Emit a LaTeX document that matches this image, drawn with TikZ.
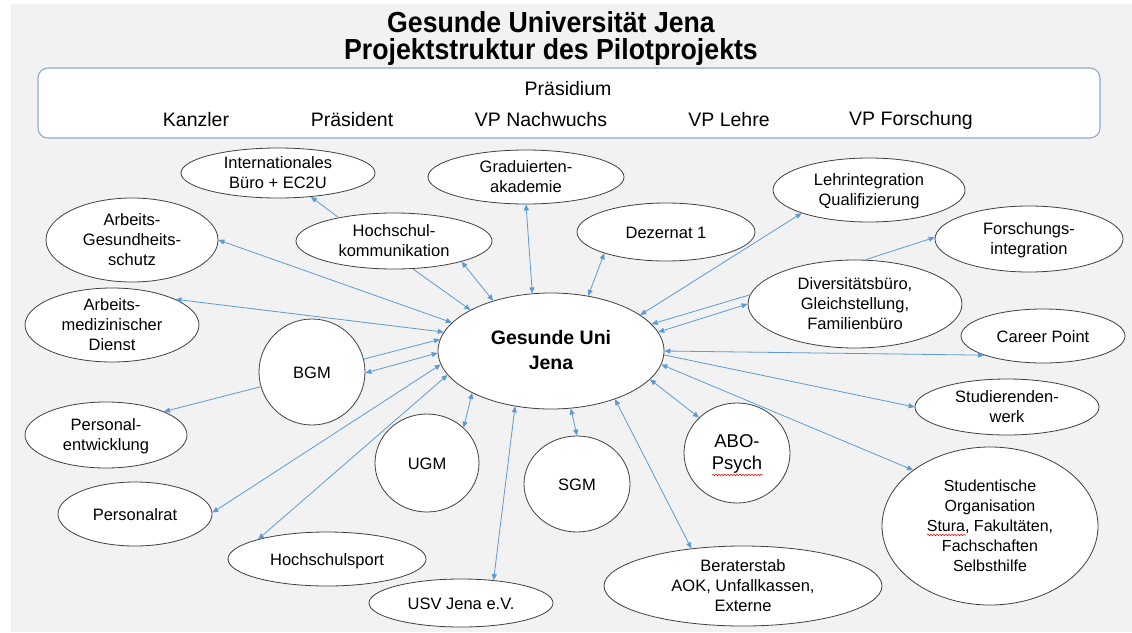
\documentclass[tikz,border=0pt]{standalone}
\usepackage{fontspec}
\setmainfont{Liberation Sans}
\newfontfamily\condfont{Liberation Sans}[FakeStretch=0.92]
\usetikzlibrary{shapes.geometric,arrows.meta,decorations.pathmorphing}
\definecolor{bgg}{HTML}{F2F2F2}
\definecolor{conn}{HTML}{5B9BD5}
\definecolor{edgec}{HTML}{404040}
\definecolor{boxc}{HTML}{8FAACC}
\newcommand\blob[7]{%
  \node[ell, minimum width=#4pt, minimum height=#5pt] (#1) at (#2,#3) {};
  \node[txt, #6] (#1t) at (#1) {#7};}
\begin{document}
\begin{tikzpicture}[x=1pt,y=-1pt,
  ell/.style={ellipse, draw=edgec, fill=white, line width=0.8pt, inner sep=0pt},
  txt/.style={inner sep=0pt, align=center, yshift=-2.5pt, font=\fontsize{16.5}{20}\selectfont,
    execute at begin node=\strut, execute at end node=\strut},
  link/.style={draw=conn, line width=0.8pt, {Triangle[length=6pt,width=5pt]}-{Triangle[length=6pt,width=5pt]}},
  one/.style={draw=conn, line width=0.8pt, -{Triangle[length=6pt,width=5pt]}},
  ttl/.style={inner sep=0pt, font=\condfont\bfseries\fontsize{29}{30}\selectfont},
  ptxt/.style={inner sep=0pt, font=\fontsize{19.5}{22}\selectfont},
  squig/.style={draw=red, line width=0.5pt, decorate, decoration={snake, amplitude=0.7pt, segment length=3pt}},
]
\useasboundingbox (0,0) rectangle (1132,632);
\fill[white] (0,0) rectangle (1132,632);
\fill[bgg] (11,4) rectangle (1132,632);

% title
\node[ttl] (t1) at (551,22) {Gesunde Universität Jena};
\node[ttl] (t2) at (551,52) {Projektstruktur des Pilotprojekts};

% Praesidium box
\node[draw=boxc, fill=white, rounded corners=10pt, line width=1.1pt, inner sep=0pt,
      minimum width=1062pt, minimum height=70pt] (praes) at (569,103) {};
\node[ptxt] (praesT) at (568,89) {Präsidium};
\node[ptxt] (kanz) at (196,120) {Kanzler};
\node[ptxt] (pras) at (352,120) {Präsident};
\node[ptxt] (vpn) at (541,120) {VP Nachwuchs};
\node[ptxt] (vpl) at (729,120) {VP Lehre};
\node[ptxt] (vpf) at (911,120) {VP Forschung};

% nodes
\blob{ib}{278}{173}{194}{50}{}{Internationales\\Büro + EC2U}
\blob{ag}{132}{240}{172}{84}{}{Arbeits-\\Gesundheits-\\schutz}
\blob{hk}{394}{241}{196}{56}{}{Hochschul-\\kommunikation}
\blob{am}{112}{325}{174}{74}{}{Arbeits-\\medizinischer\\Dienst}
\blob{bgm}{312}{372}{106}{106}{}{BGM}
\blob{pe}{106}{435}{162}{66}{}{Personal-\\entwicklung}
\blob{pr}{135}{514}{154}{64}{}{Personalrat}
\blob{hs}{327}{559}{198}{54}{}{Hochschulsport}
\blob{usv}{461}{603}{184}{48}{}{USV Jena e.V.}
\blob{ugm}{427}{463}{104}{98}{}{UGM}
\blob{ga}{526}{177}{196}{54}{}{Graduierten-\\akademie}
\blob{dz}{666}{232}{178}{58}{}{Dezernat 1}
\blob{gu}{551}{351}{226}{116}{font=\bfseries\fontsize{19.5}{25}\selectfont}{Gesunde Uni\\Jena}
\blob{li}{869}{190}{192}{64}{}{Lehrintegration\\Qualifizierung}
\blob{fi}{1029}{239}{188}{66}{}{Forschungs-\\integration}
\blob{dv}{855}{304}{214}{88}{}{Diversitätsbüro,\\Gleichstellung,\\Familienbüro}
\blob{cp}{1043}{336}{164}{54}{}{Career Point}
\blob{sw}{1007}{407}{184}{56}{}{Studierenden-\\werk}
\blob{so}{990}{526}{216}{158}{font=\fontsize{16}{20}\selectfont}{Studentische\\Organisation\\Stura, Fakultäten,\\Fachschaften\\Selbsthilfe}
\blob{bs}{743}{586}{278}{80}{}{Beraterstab\\AOK, Unfallkassen,\\Externe}
\blob{sgm}{577}{484}{106}{96}{}{SGM}
\blob{abo}{737}{453}{106}{100}{font=\fontsize{18.5}{22}\selectfont}{ABO-\\Psych}

% spell-check squiggles
\draw[squig] (712,475) -- (763,475);
\draw[squig] (927,535) -- (966,535);

% connectors
\draw[one] (hk.157) -- (ib.-36);
\draw[link] (ag.0) -- (gu.164);
\draw[one] (hk.-56) -- (gu.153);
\draw[link] (hk.-17) -- (gu.139);
\draw[link] (am.22) -- (gu.170);
\draw[one] (bgm.14) -- (gu.174);
\draw[link] (bgm.-1) -- (gu.181);
\draw[link] (pr.1) -- (gu.187);
\draw[link] (hs.164) -- (gu.193);
\draw[one] (bgm.196) -- (pe.22);
\draw[link] (ugm.44) -- (gu.208);
\draw[link] (usv.35) -- (gu.237);
\draw[link] (sgm.90) -- (gu.289);
\draw[link] (bs.144) -- (gu.-37);
\draw[link] (abo.137) -- (gu.-16);
\draw[link] (so.144) -- (gu.-7);
\draw[one] (gu.-2) -- (sw.180);
\draw[link] (gu.0) -- (cp.198);
\draw[one] (dv.175) -- (gu.15);
\draw[link] (dv.180) -- (gu.10);
\draw[one] (dv.77) -- (fi.179);
\draw[link] (li.199) -- (gu.22);
\draw[link] (dz.199) -- (gu.56);
\draw[link] (ga.270) -- (gu.108);
\end{tikzpicture}
\end{document}
